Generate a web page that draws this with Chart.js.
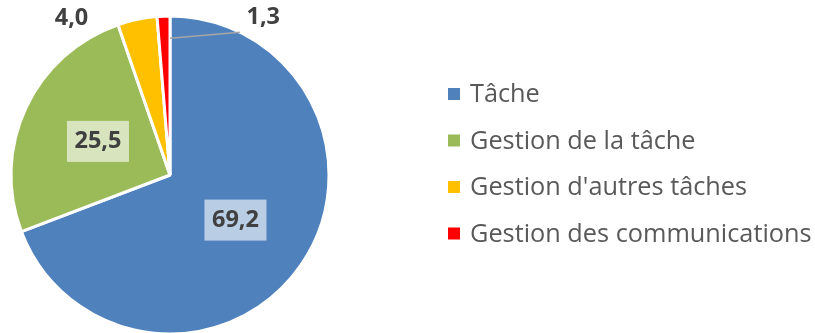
<!DOCTYPE html>
<html><head><meta charset="utf-8">
<script src="https://cdn.jsdelivr.net/npm/chart.js@4/dist/chart.umd.min.js"></script>
<style>html,body{margin:0;padding:0;background:#fff}#wrap{width:815px;height:333px;position:relative}</style>
</head><body><div id="wrap"><canvas id="c"></canvas></div>
<script>
// Répartition du temps par type d'activité (%)
const categories = ['Tâche', 'Gestion de la tâche', "Gestion d'autres tâches", 'Gestion des communications'];
const shares = [69.2, 25.5, 4.0, 1.3];
const valueLabels = ['69,2', '25,5', '4,0', '1,3'];
const sliceColors = ['#4f81bd', '#9bbb59', '#ffc000', '#ff0000'];
const labelFills = ['#b9cde5', '#d7e4bd', null, null];

const FONT = '"Open Sans", "Noto Sans", sans-serif';

// Value labels: inside slices with a tinted box, or outside with a leader line
const valueLabelPlugin = {
  id: 'valueLabels',
  afterDatasetsDraw(chart) {
    const ctx = chart.ctx;
    const arcs = chart.getDatasetMeta(0).data;
    ctx.save();
    ctx.font = 'bold 23.5px ' + FONT;
    ctx.textAlign = 'center';
    ctx.textBaseline = 'middle';
    arcs.forEach((arc, i) => {
      const p = arc.getProps(['x', 'y', 'startAngle', 'endAngle', 'outerRadius'], true);
      const mid = (p.startAngle + p.endAngle) / 2;
      const R = p.outerRadius;
      const txt = valueLabels[i];
      if (labelFills[i]) {
        const cx = p.x + 0.5 * R * Math.cos(mid);
        const cy = p.y + 0.5 * R * Math.sin(mid);
        const w = ctx.measureText(txt).width + 15;
        const h = 41;
        ctx.fillStyle = labelFills[i];
        ctx.fillRect(cx - w / 2, cy - h / 2, w, h);
        ctx.fillStyle = '#404040';
        ctx.fillText(txt, cx, cy);
      } else if (i === 2) {
        const a = mid - 20.3 * Math.PI / 180;
        const cx = p.x + 1.163 * R * Math.cos(a);
        const cy = p.y + 1.163 * R * Math.sin(a);
        ctx.fillStyle = '#404040';
        ctx.fillText(txt, cx, cy);
      } else {
        // leader line from the slice to the label
        const x0 = p.x + 0.86 * R * Math.cos(p.endAngle);
        const y0 = p.y + 0.86 * R * Math.sin(p.endAngle);
        const ea = mid + 28.4 * Math.PI / 180;
        const x1 = p.x + R * Math.cos(ea);
        const y1 = p.y + R * Math.sin(ea);
        ctx.strokeStyle = '#a6a6a6';
        ctx.lineWidth = 1.5;
        ctx.beginPath();
        ctx.moveTo(x0, y0);
        ctx.lineTo(x1, y1);
        ctx.stroke();
        const la = mid + 33 * Math.PI / 180;
        const cx = p.x + 1.15 * R * Math.cos(la);
        const cy = p.y + 1.15 * R * Math.sin(la);
        ctx.fillStyle = '#404040';
        ctx.fillText(txt, cx, cy);
      }
    });
    ctx.restore();
  }
};

// Legend column to the right of the pie
const sideLegendPlugin = {
  id: 'sideLegend',
  afterDraw(chart) {
    const ctx = chart.ctx;
    const ds = chart.data.datasets[0];
    const left = 448, top = 94, pitch = 46.5, box = 12;
    ctx.save();
    ctx.font = '25.3px ' + FONT;
    ctx.textAlign = 'left';
    ctx.textBaseline = 'middle';
    chart.data.labels.forEach((lab, i) => {
      const y = top + i * pitch;
      ctx.fillStyle = ds.backgroundColor[i];
      ctx.fillRect(left, y - box / 2, box, box);
      ctx.fillStyle = '#595959';
      ctx.fillText(lab, left + 22, y + 1);
    });
    ctx.restore();
  }
};

new Chart(document.getElementById('c'), {
  type: 'pie',
  data: {
    labels: categories,
    datasets: [{
      data: shares,
      backgroundColor: sliceColors,
      borderColor: '#ffffff',
      borderWidth: 3,
      radius: 159
    }]
  },
  options: {
    responsive: true,
    maintainAspectRatio: false,
    animation: false,
    events: [],
    layout: { padding: { left: 0, right: 475, top: 17, bottom: 0 } },
    plugins: { legend: { display: false }, tooltip: { enabled: false } }
  },
  plugins: [valueLabelPlugin, sideLegendPlugin]
});
</script>
</body></html>
